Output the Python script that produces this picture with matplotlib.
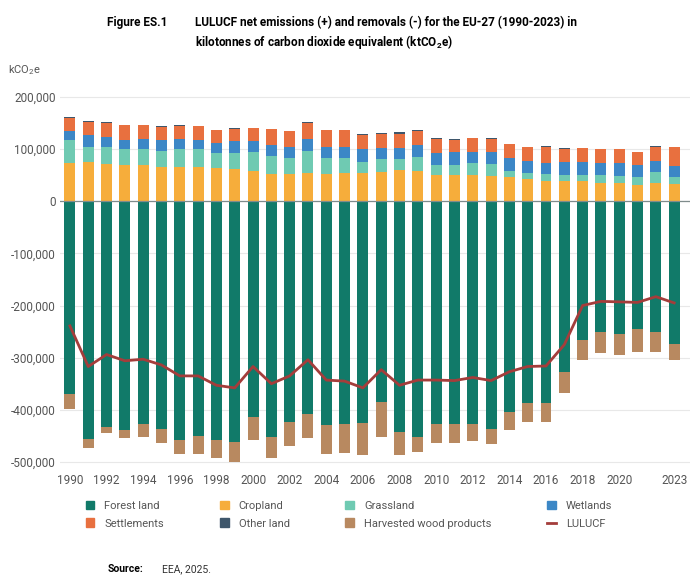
import numpy as np
import matplotlib
matplotlib.use('Agg')
import matplotlib.pyplot as plt
from matplotlib.patches import Patch
from matplotlib.lines import Line2D

plt.rcParams['font.family'] = ['Roboto', 'DejaVu Sans']
plt.rcParams['mathtext.default'] = 'regular'

# data in kt CO2e
years = np.arange(1990, 2024)
cropland = [74, 75, 72, 69, 69, 66, 66, 65, 63, 61, 59, 52, 52, 54, 52, 54, 54, 56, 60, 58,
            50, 50, 51, 49, 47, 43, 39, 38, 38, 35, 35, 32, 35, 34]
grassland = [43, 30, 32, 31, 31, 31, 34, 35, 29, 31, 35, 35, 31, 43, 31, 29, 22, 25, 21, 27,
             20, 20, 23, 23, 12, 11, 13, 13, 12, 15, 13, 14, 21, 13]
wetlands = [18, 22, 20, 17, 19, 20, 20, 18, 20, 23, 21, 20, 21, 22, 21, 22, 24, 22, 22, 23,
            22, 24, 21, 23, 24, 23, 22, 24, 26, 23, 25, 24, 22, 21]
settlements = [25, 26, 27, 29, 27, 26, 25, 26, 24, 24, 25, 31, 30, 32, 32, 31, 27, 26, 27, 27,
               28, 24, 26, 25, 26, 27, 31, 26, 26, 27, 27, 24, 27, 36]
other_land = [1, 1, 1, 1, 1, 1, 1, 1, 1, 1, 1, 1, 1, 1, 1, 1, 3, 2, 2, 2,
              1, 1, 1, 1, 1, 1, 1, 1, 1, 1, 1, 1, 1, 1]
forest_land = [-370, -457, -433, -439, -428, -437, -458, -450, -458, -461, -413, -453, -424, -408,
               -430, -428, -425, -386, -443, -453, -428, -428, -427, -437, -404, -387, -387, -328,
               -266, -251, -255, -245, -251, -274]
hwp = [-29, -17, -11, -15, -24, -27, -27, -34, -34, -39, -45, -39, -45, -47, -54, -55, -62, -66,
       -43, -28, -35, -35, -32, -29, -35, -36, -37, -39, -39, -41, -39, -45, -38, -30]
lulucf = [-239, -317, -294, -306, -303, -314, -335, -335, -353, -358, -317, -350, -335, -304,
          -343, -345, -358, -323, -353, -343, -343, -344, -338, -344, -327, -317, -316, -275,
          -200, -192, -193, -194, -183, -195]

xtick_years = list(range(1990, 2021, 2)) + [2023]

c_forest = '#117a69'
c_crop = '#f6ad3b'
c_grass = '#6fcab2'
c_wet = '#3c87c6'
c_settl = '#e8703f'
c_other = '#3e566b'
c_hwp = '#b88960'
c_line = '#a43d3b'

fig = plt.figure(figsize=(6.96, 5.81), dpi=100)
ax = fig.add_axes([0.086, 0.196, 0.905, 0.646])

k = 1000.0
w = 0.6
pos_series = [(cropland, c_crop), (grassland, c_grass), (wetlands, c_wet),
              (settlements, c_settl), (other_land, c_other)]
bottom = np.zeros(len(years))
for vals, col in pos_series:
    v = np.array(vals) * k
    ax.bar(years, v, w, bottom=bottom, color=col, linewidth=0, zorder=2)
    bottom += v

neg = np.array(forest_land) * k
ax.bar(years, neg, w, color=c_forest, linewidth=0, zorder=2)
ax.bar(years, np.array(hwp) * k, w, bottom=neg, color=c_hwp, linewidth=0, zorder=2)

ax.plot(years, np.array(lulucf) * k, color=c_line, lw=2, zorder=3)

ax.set_xlim(1989.45, 2023.85)
ax.set_ylim(-510000, 210000)
ax.set_yticks(np.arange(-500000, 200001, 100000))
ax.yaxis.set_major_formatter(matplotlib.ticker.FuncFormatter(lambda v, p: f'{int(v):,}'))
ax.set_xticks(xtick_years)
ax.tick_params(length=0, labelsize=8.5, labelcolor='#555555')
ax.tick_params(axis='x', pad=5)
ax.tick_params(axis='y', pad=3)
ax.grid(axis='y', color='#e8e8e8', lw=0.8, zorder=0)
ax.axhline(0, color='#7f8c8c', lw=0.9, zorder=2.5)
for s in ax.spines.values():
    s.set_visible(False)

# title
fig.text(0.154, 0.962, 'Figure ES.1', fontsize=8.5, fontweight='bold', va='center',
         family=['Liberation Sans Narrow', 'Roboto'])
fig.text(0.280, 0.962, 'LULUCF net emissions (+) and removals (-) for the EU-27 (1990-2023) in',
         fontsize=8.5, fontweight='bold', va='center', family=['Liberation Sans Narrow', 'Roboto'])
fig.text(0.280, 0.928, 'kilotonnes of carbon dioxide equivalent (ktCO$_2$e)',
         fontsize=8.5, fontweight='bold', va='center', family=['Liberation Sans Narrow', 'Roboto'])
fig.text(0.011, 0.879, 'kCO$_2$e', fontsize=8, color='#555555', va='center')

handles = [Patch(color=c_forest), Patch(color=c_settl), Patch(color=c_crop), Patch(color=c_other),
           Patch(color=c_grass), Patch(color=c_hwp), Patch(color=c_wet),
           Line2D([0], [0], color=c_line, lw=2)]
labels = ['Forest land', 'Settlements', 'Cropland', 'Other land', 'Grassland',
          'Harvested wood products', 'Wetlands', 'LULUCF']
fig.legend(handles, labels, ncol=4, loc='upper left', bbox_to_anchor=(0.115, 0.148),
           frameon=False, fontsize=8, handlelength=0.8, handleheight=0.8, handletextpad=0.9,
           columnspacing=5.0, labelspacing=0.7, labelcolor='#555555', borderpad=0)

fig.text(0.154, 0.021, 'Source:', fontsize=7.5, fontweight='bold', va='center')
fig.text(0.233, 0.021, 'EEA, 2025.', fontsize=7.5, va='center', color='#333333')

fig.savefig('out.png', dpi=100)
